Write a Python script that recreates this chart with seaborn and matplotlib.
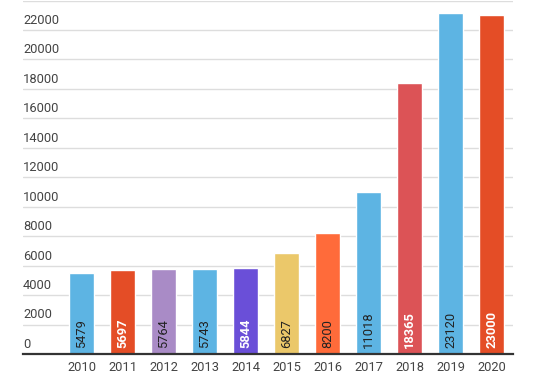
import matplotlib
matplotlib.use('Agg')
import matplotlib.pyplot as plt
import matplotlib.transforms as mtransforms
import seaborn as sns
import pandas as pd

# data
years = ['2010', '2011', '2012', '2013', '2014', '2015', '2016', '2017', '2018', '2019', '2020']
values = [5479, 5697, 5764, 5743, 5844, 6827, 8200, 11018, 18365, 23120, 23000]
colors = ['#5DB4E3', '#E44D26', '#A98BC6', '#5DB4E3', '#6A4FD8', '#EBC86A',
          '#FF6B3A', '#5DB4E3', '#DC5356', '#5DB4E3', '#E44D26']
white_label = ['2011', '2014', '2018', '2020']
yticks = list(range(0, 24001, 2000))

df = pd.DataFrame({'year': years, 'value': values})

sns.set_style('white')
plt.rcParams['font.family'] = ['Roboto', 'DejaVu Sans']

fig = plt.figure(figsize=(5.37, 3.87), dpi=100)
ax = fig.add_axes([23 / 537, 33 / 387, 490 / 537, 353.5 / 387])

sns.barplot(data=df, x='year', y='value', hue='year', palette=colors,
            legend=False, width=0.61, saturation=1, ax=ax, zorder=3)

ax.set_xlim(-1.427, 10.52)
ax.set_ylim(0, 24000)
ax.set_yticks(yticks)
ax.set_yticklabels([])
ax.yaxis.grid(True, color='#dddddd', linewidth=1, zorder=0)
ax.set_axisbelow(True)
for s in ['top', 'right', 'left']:
    ax.spines[s].set_visible(False)
ax.spines['bottom'].set_color('#333333')
ax.spines['bottom'].set_linewidth(1.6)
ax.spines['bottom'].set_zorder(5)
ax.set_xlabel('')
ax.set_ylabel('')
ax.tick_params(axis='x', length=0, pad=5, labelsize=9.3, labelcolor='#444444')
ax.tick_params(axis='y', length=0)

# y labels sit above the gridlines, left aligned
trans = mtransforms.blended_transform_factory(ax.transAxes, ax.transData)
for v in yticks[:-1]:
    ax.annotate(str(v), xy=(0, v), xycoords=trans, xytext=(0, 2.2),
                textcoords='offset points', ha='left', va='bottom',
                fontsize=9.3, color='#444444')

# value labels inside bars
for i, (y, v) in enumerate(zip(years, values)):
    white = y in white_label
    ax.annotate(str(v), xy=(i, 0), xytext=(0, 4.3), textcoords='offset points',
                rotation=90, ha='center', va='bottom', fontsize=9.3,
                color='white' if white else '#222222',
                fontweight='bold' if white else 'normal', zorder=6)

fig.savefig('out.png', dpi=100)
